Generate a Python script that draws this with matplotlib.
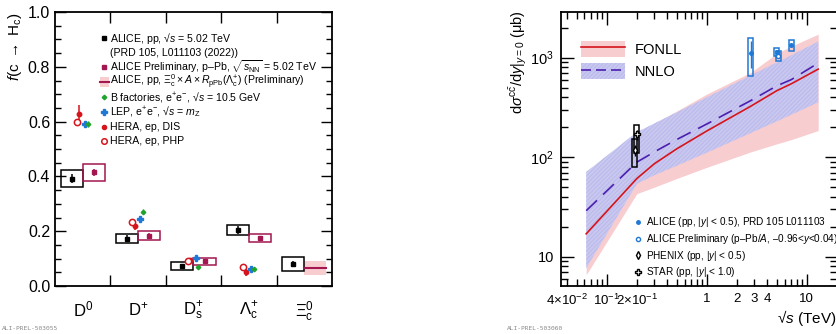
import numpy as np
import matplotlib
matplotlib.use("Agg")
import matplotlib.pyplot as plt
from matplotlib.patches import Rectangle, Patch
from matplotlib.lines import Line2D
from matplotlib.ticker import FixedLocator, FixedFormatter

plt.rcParams['font.family'] = ['Liberation Sans', 'DejaVu Sans']
plt.rcParams['mathtext.fontset'] = 'custom'
plt.rcParams['mathtext.rm'] = 'Liberation Sans'
plt.rcParams['mathtext.it'] = 'Liberation Sans:italic'
plt.rcParams['mathtext.bf'] = 'Liberation Sans:bold'
plt.rcParams['mathtext.sf'] = 'Liberation Sans'

# ---- left panel: charm fragmentation fractions ----
species = [r'D$^{0}$', r'D$^{+}$', r'D$_{\rm s}^{+}$', r'$\Lambda_{\rm c}^{+}$', r'$\Xi_{\rm c}^{0}$']
pp_val = [0.392, 0.173, 0.073, 0.204, 0.080]
pp_stat = [0.015, 0.013, 0.006, 0.014, 0.011]
pp_syst = [0.031, 0.017, 0.014, 0.019, 0.025]
ppb_val = [0.415, 0.184, 0.090, 0.175]
ppb_stat = [0.012, 0.010, 0.006, 0.009]
ppb_syst = [0.030, 0.016, 0.013, 0.016]
xi_val = 0.067
xi_lo = 0.040
xi_hi = 0.092

# e+e- / ep results for D0, D+, Ds, Lc
hera_php = [0.600, 0.235, 0.091, 0.068]
hera_dis = [0.627, 0.218, 0.094, 0.052]
hera_dis_err = [0.035, 0.015, 0.008, 0.015]
lep = [0.591, 0.243, 0.101, 0.061]
lep_err = [0.010, 0.008, 0.007, 0.006]
bfac = [0.591, 0.271, 0.070, 0.061]
bfac_err = [0.010, 0.010, 0.006, 0.005]

# ---- right panel: ccbar cross section vs sqrt(s) ----
th_energy = [0.0624, 0.2, 0.3, 0.5, 1.0, 2.76, 5.02, 7.0, 13.0]
fonll = [17, 61, 86, 121, 183, 325, 465, 545, 765]
fonll_lo = [6.6, 43, 50, 61, 79, 113, 136, 150, 185]
fonll_hi = [60, 165, 220, 290, 430, 710, 1100, 1300, 1715]
nnlo = [29, 89, 113, 150, 215, 370, 520, 600, 880]
nnlo_lo = [7.7, 54, 66, 82, 111, 175, 229, 267, 355]
nnlo_hi = [71, 178, 218, 281, 398, 662, 892, 1053, 1445]

alice_pp_e = [2.76, 5.02, 7.0]
alice_pp = [1120, 1140, 1350]
alice_pp_stat = [340, 50, 60]
alice_pp_syst_lo = [656, 1040, 1165]
alice_pp_syst_hi = [1585, 1260, 1510]
alice_ppb_e = [5.2]
alice_ppb = [1040]
alice_ppb_stat = [40]
alice_ppb_syst_lo = [920]
alice_ppb_syst_hi = [1165]
phenix_e, phenix, phenix_stat, phenix_lo, phenix_hi = [0.19], [117], [15], [80], [153]
star_e, star, star_stat, star_lo, star_hi = [0.2], [169], [20], [110], [208]

black = 'black'
maroon = '#a3164f'
pink = '#f8cdd0'
green = '#1fa32b'
blue = '#1f78d6'
red = '#d6141c'
violet = '#4b1fb0'
lav = '#c9c9f2'
lav_hatch = '#bcbcec'

fig = plt.figure(figsize=(8.37, 3.34), dpi=100)

ax1 = fig.add_axes([55/837, 48/334, 277/837, 274/334])
ax1.set_xlim(0, 5)
ax1.set_ylim(0, 1)
centers = np.arange(len(species)) + 0.5

for i, c in enumerate(centers):
    ax1.add_patch(Rectangle((c - 0.4, pp_val[i] - pp_syst[i]), 0.4, 2 * pp_syst[i],
                            fill=False, ec=black, lw=1.1, zorder=3))
for i in range(len(ppb_val)):
    c = centers[i]
    ax1.add_patch(Rectangle((c, ppb_val[i] - ppb_syst[i]), 0.4, 2 * ppb_syst[i],
                            fill=False, ec=maroon, lw=1.1, zorder=3))
ax1.fill_between([centers[4], centers[4] + 0.4], xi_lo, xi_hi, color=pink, lw=0, zorder=2)
ax1.plot([centers[4], centers[4] + 0.4], [xi_val, xi_val], color=maroon, lw=1.5, zorder=3)

ax1.errorbar(centers - 0.2, pp_val, yerr=pp_stat, fmt='s', color=black, ms=3.5, lw=1.1, capsize=0, zorder=4)
ax1.errorbar(centers[:4] + 0.2, ppb_val, yerr=ppb_stat, fmt='s', color=maroon, ms=3.5, lw=1.1, capsize=0, zorder=4)

c4 = centers[:4]
ax1.errorbar(c4 - 0.06, hera_dis, yerr=hera_dis_err, fmt='o', color=red, ms=3.2, lw=1.1, capsize=0, zorder=4)
ax1.plot(c4 - 0.105, hera_php, 'o', mfc='white', mec=red, ms=4.5, mew=1.1, zorder=5)
ax1.errorbar(c4 + 0.04, lep, yerr=lep_err, fmt='P', color=blue, ms=4, lw=1.0, capsize=0, zorder=4)
ax1.errorbar(c4 + 0.09, bfac, yerr=bfac_err, fmt='D', color=green, ms=2.3, lw=1.0, capsize=0, zorder=4)

ax1.set_xticks([1, 2, 3, 4])
ax1.set_xticklabels([])
ax1.set_xticks(centers, minor=True)
ax1.set_xticklabels(species, minor=True, fontsize=12)
ax1.tick_params(axis='x', which='minor', length=0, pad=10)
ax1.tick_params(axis='x', which='major', direction='in', length=8, top=True, width=1)
ax1.set_yticks(np.arange(0, 1.01, 0.2))
ax1.set_yticks(np.arange(0, 1.01, 0.05), minor=True)
ax1.tick_params(axis='y', which='both', direction='in', right=True, labelsize=11.5, width=1)
ax1.tick_params(axis='y', which='major', length=8)
ax1.tick_params(axis='y', which='minor', length=4)
for s in ax1.spines.values():
    s.set_linewidth(1.3)


def to_ax(ax, px, py):
    # figure pixel -> axes fraction (for legend placement)
    bb = ax.get_position()
    return ((px / 837 - bb.x0) / bb.width, ((334 - py) / 334 - bb.y0) / bb.height)


# hand-placed legend rows, ROOT style
rows_left = [
    (dict(marker='s', color=black, ms=3), 'ALICE, pp, √$s$ = 5.02 TeV'),
    (None, '(PRD 105, L011103 (2022))'),
    (dict(marker='s', color=maroon, ms=3), r'ALICE Preliminary, p–Pb, $\sqrt{s_{\rm NN}}$ = 5.02 TeV'),
    ('xi', r'ALICE, pp, $\Xi_{\rm c}^{0}\times A\times R_{\rm pPb}(\Lambda_{\rm c}^{+})$ (Preliminary)'),
    (dict(marker='D', color=green, ms=2.3), r'B factories, e$^{+}$e$^{-}$, √$s$ = 10.5 GeV'),
    (dict(marker='P', color=blue, ms=4), r'LEP, e$^{+}$e$^{-}$, √$s$ = $m_{\rm Z}$'),
    (dict(marker='o', color=red, ms=3), 'HERA, ep, DIS'),
    (dict(marker='o', mfc='white', mec=red, mew=1.1, ms=4), 'HERA, ep, PHP'),
]
row_y = [38.3, 52.3, 67.3, 82.0, 97.0, 111.7, 126.7, 140.5]
for (h, lab), py in zip(rows_left, row_y):
    mx, my = to_ax(ax1, 104, py)
    tx, ty = to_ax(ax1, 110, py + 3.7)
    if h == 'xi':
        x0, y0 = to_ax(ax1, 100, py + 5)
        x1, y1 = to_ax(ax1, 109, py - 5)
        ax1.add_patch(Rectangle((x0, y0), x1 - x0, y1 - y0, transform=ax1.transAxes,
                                fc=pink, ec='none', zorder=5))
        ax1.plot([x0, x1], [my, my], color=maroon, lw=1.5, transform=ax1.transAxes, zorder=6)
    elif h is not None:
        ax1.plot([mx], [my], ls='none', transform=ax1.transAxes, zorder=6, **h)
    ax1.text(tx, ty, lab, transform=ax1.transAxes, fontsize=7.6, va='baseline', ha='left')

fig.text(15/837, 1 - 12/334, r'$f$(c $\rightarrow$ H$_{\rm c}$)', rotation=90,
         ha='center', va='top', fontsize=11)

# ---- right panel ----
ax2 = fig.add_axes([560.7/837, 48/334, 276/837, 274/334])
ax2.set_xscale('log')
ax2.set_yscale('log')
ax2.fill_between(th_energy, fonll_lo, fonll_hi, color=pink, lw=0, zorder=1)
ax2.fill_between(th_energy, nnlo_lo, nnlo_hi, facecolor=lav, edgecolor=lav_hatch,
                 hatch='////////', lw=0, alpha=0.95, zorder=2)
ax2.plot(th_energy, fonll, color=red, lw=1.2, zorder=3)
ax2.plot(th_energy, nnlo, color=violet, lw=1.2, dashes=(9, 5), zorder=3)

bw = 10 ** 0.024


def syst_boxes(ax, xs, lo, hi, color, lw=1.1):
    for x, l, h in zip(xs, lo, hi):
        ax.add_patch(Rectangle((x / bw, l), x * bw - x / bw, h - l, fill=False,
                               ec=color, lw=lw, zorder=4))


syst_boxes(ax2, alice_pp_e, alice_pp_syst_lo, alice_pp_syst_hi, blue)
syst_boxes(ax2, alice_ppb_e, alice_ppb_syst_lo, alice_ppb_syst_hi, blue)
syst_boxes(ax2, phenix_e, phenix_lo, phenix_hi, black)
syst_boxes(ax2, star_e, star_lo, star_hi, black)
ax2.errorbar(alice_pp_e, alice_pp, yerr=alice_pp_stat, fmt='o', color=blue, ms=2.5, lw=1, capsize=0, zorder=5)
ax2.errorbar(alice_ppb_e, alice_ppb, yerr=alice_ppb_stat, fmt='o', mfc='white', mec=blue, color=blue,
             ms=3, lw=1, capsize=0, zorder=5)
ax2.errorbar(phenix_e, phenix, yerr=phenix_stat, fmt='d', mfc='white', mec=black, color=black,
             ms=4, lw=1, capsize=0, zorder=5)
ax2.errorbar(star_e, star, yerr=star_stat, fmt='P', mfc='white', mec=black, color=black,
             ms=4, lw=1, capsize=0, zorder=5)

ax2.set_xlim(0.0347, 19.9)
ax2.set_ylim(5.09, 2864)
ax2.xaxis.set_major_locator(FixedLocator([0.1, 1, 10]))
ax2.xaxis.set_major_formatter(FixedFormatter([r'10$^{-1}$', '1', '10']))
minor_x = [0.04, 0.05, 0.06, 0.07, 0.08, 0.09, 0.2, 0.3, 0.4, 0.5, 0.6, 0.7, 0.8, 0.9,
           2, 3, 4, 5, 6, 7, 8, 9]
minor_lab = ['4×10$^{-2}$', '', '', '', '', '', '2×10$^{-1}$', '', '', '', '', '', '', '',
             '2', '3', '4', '', '', '', '', '']
ax2.xaxis.set_minor_locator(FixedLocator(minor_x))
ax2.xaxis.set_minor_formatter(FixedFormatter(minor_lab))
ax2.yaxis.set_major_locator(FixedLocator([10, 100, 1000]))
ax2.yaxis.set_major_formatter(FixedFormatter(['10', '10$^{2}$', '10$^{3}$']))
ax2.tick_params(which='both', direction='in', top=True, right=True, labelsize=10.5, width=1)
ax2.tick_params(axis='x', which='both', pad=5, labelsize=9.5)
ax2.tick_params(axis='y', which='both', pad=5)
ax2.tick_params(which='major', length=9)
ax2.tick_params(which='minor', length=5)
for s in ax2.spines.values():
    s.set_linewidth(1.3)

hf = (Patch(fc=pink, ec='none'), Line2D([], [], color=red, lw=1.2))
hn = (Patch(fc=lav, ec=lav_hatch, hatch='////////', lw=0), Line2D([], [], color=violet, lw=1.2, dashes=(6, 3)))
ax2.legend([hf, hn], ['FONLL', 'NNLO'], loc='upper left', bbox_to_anchor=(0.074, 0.895),
           frameon=False, fontsize=10.5, handlelength=3.0, handleheight=1.3,
           handletextpad=0.7, labelspacing=0.45, borderpad=0, borderaxespad=0)

rows_right = [
    (dict(marker='o', color=blue, ms=2.5), r'ALICE (pp, |$y$| < 0.5), PRD 105 L011103'),
    (dict(marker='o', mfc='white', mec=blue, ms=3), r'ALICE Preliminary (p–Pb/$A$, –0.96<$y$<0.04)'),
    (dict(marker='d', mfc='white', mec=black, ms=4), r'PHENIX (pp, |$y$| < 0.5)'),
    (dict(marker='P', mfc='white', mec=black, ms=4), r'STAR (pp, |$y$| < 1.0)'),
]
row_y2 = [221.7, 238.7, 255.0, 271.7]
for (h, lab), py in zip(rows_right, row_y2):
    mx, my = to_ax(ax2, 637.7, py)
    tx, ty = to_ax(ax2, 646, py + 3.6)
    ax2.plot([mx], [my], ls='none', transform=ax2.transAxes, zorder=6, **h)
    ax2.text(tx, ty, lab, transform=ax2.transAxes, fontsize=7.2, va='baseline', ha='left', clip_on=False)

fig.text(518/837, 1 - 10/334, 'd$\\sigma^{\\rm c\\bar{c}}$/d$y$|$_{y=0}$ (μb)', rotation=90,
         ha='center', va='top', fontsize=10.5)
fig.text(836/837, 1 - 318/334, '√$s$ (TeV)', ha='right', va='center', fontsize=11)

fig.text(2/837, 1 - 328/334, 'ALI-PREL-503055', fontsize=4.5, color='#888888', family='monospace', va='center')
fig.text(507/837, 1 - 328/334, 'ALI-PREL-503060', fontsize=4.5, color='#888888', family='monospace', va='center')

fig.savefig('out.png', dpi=100)
